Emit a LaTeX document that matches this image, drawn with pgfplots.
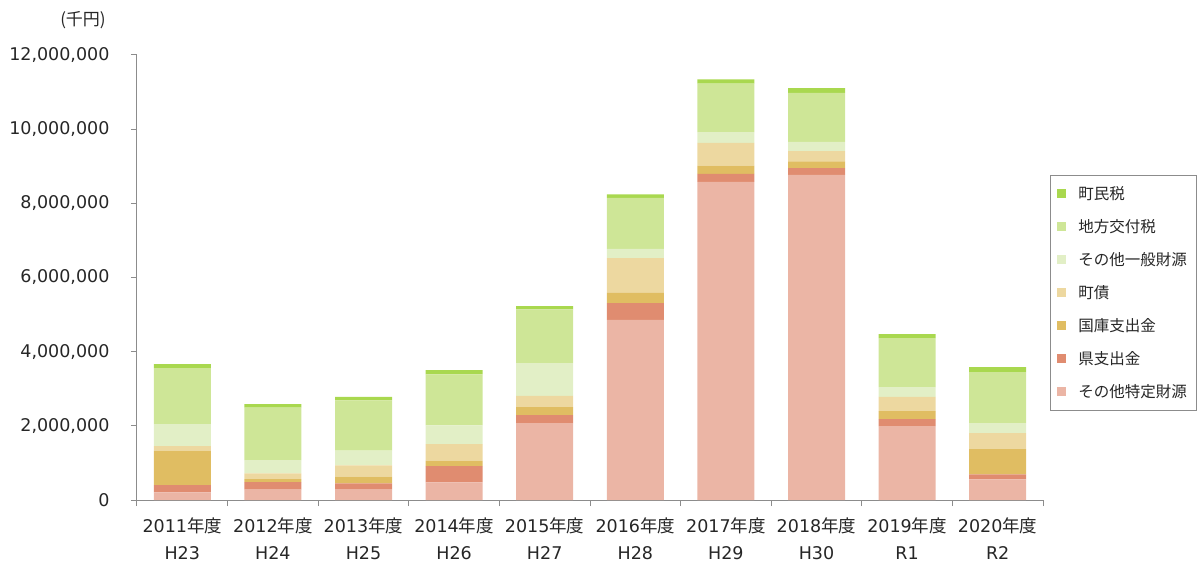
\documentclass[border=0pt]{standalone}
\usepackage{pgfplots}
\pgfplotsset{compat=1.18}
\usepackage{pgfplotstable}
\usepackage{fontspec}
\setmainfont{DejaVu Sans}
\newfontfamily\cjk{Noto Sans CJK JP}
\definecolor{cDG}{HTML}{A9D84F}
\definecolor{cLG}{HTML}{CEE697}
\definecolor{cPale}{HTML}{E2EFC6}
\definecolor{cTan}{HTML}{EDD8A0}
\definecolor{cGold}{HTML}{E0BD62}
\definecolor{cRed}{HTML}{E08C70}
\definecolor{cPink}{HTML}{EBB5A5}
\definecolor{axgray}{HTML}{8C8C8C}
\pgfplotstableread{
x pink red gold tan pale lg dg
0 208000 196000 926000 126000 592000 1510000 108000
1 278000 207000 81000 154000 358000 1410000 100000
2 278000 172000 178000 307000 394000 1358000 97000
3 477000 439000 143000 450000 504000 1375000 116000
4 2075000 216000 216000 304000 882000 1447000 89000
5 4860000 450000 278000 935000 251000 1374000 92000
6 8580000 215000 225000 610000 289000 1311000 110000
7 8768000 181000 180000 278000 251000 1320000 127000
8 1995000 188000 216000 385000 262000 1321000 107000
9 558000 135000 682000 431000 269000 1375000 135000
}\datatable
\begin{document}
\begin{tikzpicture}
\path[use as bounding box] (-137pt,-67pt) rectangle (1061pt,500pt);
\begin{axis}[
  at={(0pt,0pt)}, anchor=south west,
  scale only axis, width=906pt, height=445pt,
  ybar stacked, bar width=57pt,
  xmin=-0.5, xmax=9.5, ymin=0, ymax=12000000,
  axis lines=left, axis line style={-, draw=axgray, line width=1pt},
  tick style={draw=axgray, line width=1pt},
  tick align=outside, major tick length=6pt,
  xtick={-0.5,0.5,1.5,2.5,3.5,4.5,5.5,6.5,7.5,8.5,9.5},
  xticklabels={},
  extra x ticks={0,1,2,3,4,5,6,7,8,9},
  extra x tick style={major tick length=0pt},
  extra x tick labels={{2011{\cjk 年度}\\H23},{2012{\cjk 年度}\\H24},{2013{\cjk 年度}\\H25},{2014{\cjk 年度}\\H26},{2015{\cjk 年度}\\H27},{2016{\cjk 年度}\\H28},{2017{\cjk 年度}\\H29},{2018{\cjk 年度}\\H30},{2019{\cjk 年度}\\R1},{2020{\cjk 年度}\\R2}},
  xticklabel style={align=center, font=\fontsize{17.5}{27}\selectfont, text=black!85, yshift=-14pt},
  ytick={0,2000000,4000000,6000000,8000000,10000000,12000000},
  scaled y ticks=false,
  yticklabel style={font=\fontsize{17.5}{20}\selectfont, text=black!85, xshift=-18pt},
  /pgf/number format/assume math mode=true,
  /pgf/number format/.cd, fixed, 1000 sep={,}, /pgfplots/.cd,
  legend style={at={(1.0077,0.7303)}, anchor=north west, draw=axgray, line width=0.8pt,
    font=\cjk\fontsize{15.5}{18}\selectfont, row sep=14.5pt, column sep=10pt, inner xsep=7pt, inner ysep=9pt,
    text=black!85},
  legend cell align=left,
  reverse legend,
  legend image code/.code={\fill[#1] (0pt,-4.5pt) rectangle (9pt,4.5pt);},
  every axis plot/.append style={draw=none},
]
\addplot[fill=cPink] table[x=x,y=pink] {\datatable};
\addplot[fill=cRed] table[x=x,y=red] {\datatable};
\addplot[fill=cGold] table[x=x,y=gold] {\datatable};
\addplot[fill=cTan] table[x=x,y=tan] {\datatable};
\addplot[fill=cPale] table[x=x,y=pale] {\datatable};
\addplot[fill=cLG] table[x=x,y=lg] {\datatable};
\addplot[fill=cDG] table[x=x,y=dg] {\datatable};
\legend{その他特定財源,県支出金,国庫支出金,町債,その他一般財源,地方交付税,町民税}
\end{axis}
\node[font=\cjk\fontsize{17}{20}\selectfont, text=black!85] at (-54pt,480pt) {(千円)};
\end{tikzpicture}
\end{document}
